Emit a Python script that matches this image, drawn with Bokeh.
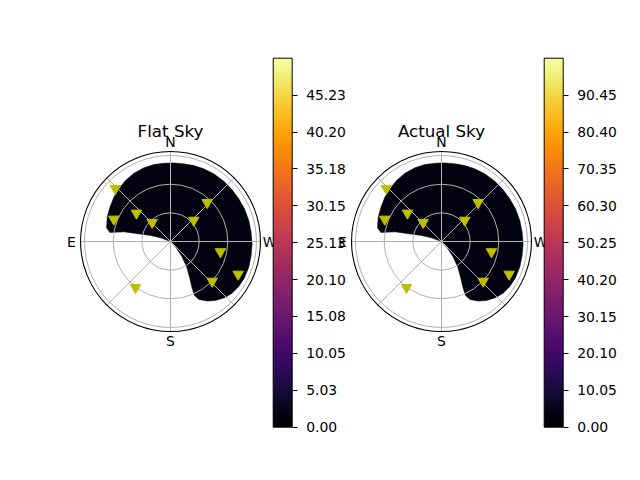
import numpy as np
from bokeh.plotting import figure
from bokeh.models import Range1d, ColorBar, LinearColorMapper, FixedTicker, NumeralTickFormatter
from bokeh.palettes import Inferno256
from bokeh.core.properties import value
from bokeh.embed import file_html
from bokeh.resources import INLINE

# ---------------- data ----------------
panel_titles = ["Flat Sky", "Actual Sky"]

# satellites: azimuth (deg, from N toward E) and zenith angle (deg)
sat_az = [46.1, 68.5, 50.2, 43.9, 312.4, 316.7, 258.4, 244.2, 226.4, 142.7]
sat_zen = [80.1, 63.8, 46.4, 27.7, 33.0, 56.0, 53.4, 78.7, 60.3, 60.5]

# visible-sky region outline (azimuth, zenith)
mask_az = [0.0, 69.9, 73.3, 77.2, 78.3, 80.4, 81.6, 77.9, 69.0, 60.5, 52.0, 44.5,
           36.4, 28.2, 19.9, 12.2, 4.9, 357.6, 350.3, 342.9, 335.4, 327.4, 318.5,
           310.0, 302.0, 293.8, 285.0, 276.6, 268.4, 260.2, 251.9, 243.9, 236.6,
           230.0, 223.8, 217.3, 211.6, 206.1, 204.0, 205.0, 208.1, 212.6, 217.1, 222.0]
mask_zen = [0.0, 11.2, 21.8, 39.4, 49.8, 58.4, 64.2, 68.5, 71.0, 72.9, 75.3, 77.2,
            79.4, 81.1, 82.0, 82.4, 82.3, 82.4, 82.5, 83.2, 83.7, 84.1, 84.3,
            84.2, 84.3, 84.7, 84.9, 85.0, 85.5, 85.7, 86.3, 86.3, 85.7,
            84.2, 81.6, 77.7, 73.3, 67.6, 61.9, 52.8, 42.3, 31.1, 19.6, 9.4]
mask_level = [1.4, 2.8]  # colour level of the (near zero) sky values in each panel

ring_zen = [30, 60, 90]
spoke_az = [0, 45, 90, 135, 180, 225, 270, 315]
compass_labels = ["N", "E", "S", "W"]
compass_az = [0, 90, 180, 270]
r_max = 94.2

cb_max = [50.25, 100.5]
cb_labels = [
    ["0.00", "5.03", "10.05", "15.08", "20.10", "25.13", "30.15", "35.18", "40.20", "45.23"],
    ["0.00", "10.05", "20.10", "30.15", "40.20", "50.25", "60.30", "70.35", "80.40", "90.45"],
]

# ---------------- layout ----------------
W, H = 640, 480
PX = 0.955                  # pixels per degree of zenith
CX = [170, 441]             # panel centres (canvas px)
CY = 241

p = figure(width=W, height=H, output_backend="svg", toolbar_location=None,
           min_border=0, outline_line_color=None,
           x_range=Range1d(-CX[0] / PX, (W - CX[0]) / PX),
           y_range=Range1d(-(H - CY) / PX, CY / PX))
p.axis.visible = False
p.grid.visible = False
p.background_fill_color = "white"
p.border_fill_color = "white"

def to_xy(az, zen, off):
    a = np.radians(np.asarray(az, dtype=float))
    z = np.asarray(zen, dtype=float)
    return off - z * np.sin(a), z * np.cos(a)

font = value("DejaVu Sans")

for i in range(2):
    off = (CX[i] - CX[0]) / PX
    mapper = LinearColorMapper(palette=Inferno256, low=0, high=cb_max[i])
    # sky region
    mx, my = to_xy(mask_az, mask_zen, off)
    idx = int(round(mask_level[i] / cb_max[i] * 255))
    p.patch(mx, my, fill_color=Inferno256[idx], line_color=Inferno256[idx], line_width=0.5)
    # grid rings
    for rz in ring_zen:
        p.circle(x=[off], y=[0], radius=rz, fill_color=None, line_color="#b0b0b0",
                 line_width=1.0)
    # spokes
    for a in spoke_az:
        sx, sy = to_xy([a, a], [0, r_max], off)
        p.line(sx, sy, line_color="#b0b0b0", line_width=1.0)
    # outer frame
    p.circle(x=[off], y=[0], radius=r_max, fill_color=None, line_color="black",
             line_width=1.1)
    # satellites
    tx, ty = to_xy(sat_az, sat_zen, off)
    p.scatter(tx, ty, marker="inverted_triangle", size=10.5, fill_color="#bfbf00",
              line_color="#bfbf00")
    # compass labels
    lx, ly = to_xy(compass_az, [(r_max + 9.5)] * 4, off)
    p.text(lx, ly, text=compass_labels, text_align="center", text_baseline="middle",
           text_font=font, text_font_size="13.9px", text_color="black")
    # title
    p.text([off], [111 / PX], text=[panel_titles[i]], text_align="center",
           text_baseline="middle", text_font=font, text_font_size="16.7px",
           text_color="black")
    # colour bar
    ticks = [float(s) for s in cb_labels[i]]
    cb = ColorBar(color_mapper=mapper, ticker=FixedTicker(ticks=ticks),
                  formatter=NumeralTickFormatter(format="0.00"),
                  width=19, height=369, padding=0, margin=0,
                  location=(272.7 + (CX[i] - CX[0]), H - 426.7),
                  bar_line_color="black", bar_line_width=1,
                  major_tick_in=0, major_tick_out=5, major_tick_line_color="black",
                  minor_tick_line_color=None, label_standoff=9,
                  major_label_text_font="DejaVu Sans", major_label_text_font_size="13.9px",
                  major_label_text_color="black", background_fill_color=None,
                  border_line_color=None)
    p.add_layout(cb)

open("out.html", "w").write(file_html(p, INLINE))
